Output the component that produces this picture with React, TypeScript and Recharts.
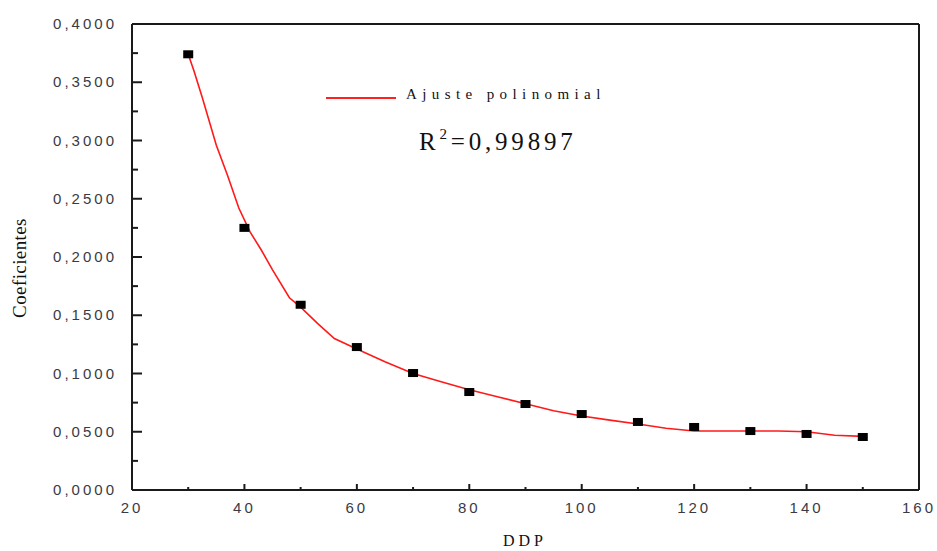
import React from 'react';
import { ComposedChart, Line, Scatter, XAxis, YAxis } from 'recharts';

// measured points
const ddp = [30, 40, 50, 60, 70, 80, 90, 100, 110, 120, 130, 140, 150];
const coef = [0.374, 0.225, 0.159, 0.1227, 0.1004, 0.0841, 0.0738, 0.0652, 0.0584, 0.0541, 0.0506, 0.0481, 0.0455];

// polynomial fit curve
const fitX = [30, 31, 32.5, 35, 37, 39, 41, 43, 45, 48, 50, 53, 56, 60, 65, 70, 75, 80, 85, 90, 95, 100, 105, 110, 115, 120, 125, 130, 135, 140, 145, 150];
const fitY = [0.374, 0.36, 0.337, 0.296, 0.27, 0.242, 0.2215, 0.206, 0.189, 0.165, 0.157, 0.143, 0.13, 0.121, 0.11, 0.1, 0.093, 0.086, 0.08, 0.074, 0.068, 0.0635, 0.06, 0.0567, 0.053, 0.0506, 0.0506, 0.0506, 0.0506, 0.05, 0.047, 0.046];

const xTicks = [20, 30, 40, 50, 60, 70, 80, 90, 100, 110, 120, 130, 140, 150, 160];
const yTicks = [0, 0.025, 0.05, 0.075, 0.1, 0.125, 0.15, 0.175, 0.2, 0.225, 0.25, 0.275, 0.3, 0.325, 0.35, 0.375, 0.4];

const points = ddp.map((x, i) => ({ x, v: coef[i] }));
const fit = fitX.map((x, i) => ({ x, v: fitY[i] }));

const AXIS = '#1a1a1a';
const LABEL = '#3a3a44';

const isMajorX = (v: number) => v % 20 === 0;
const isMajorY = (v: number) => Math.round(v * 1000) % 50 === 0;

const BottomTick = ({ x, y, payload }: any) => {
  const major = isMajorX(payload.value);
  return (
    <g>
      <line x1={x} x2={x} y1={y} y2={y - (major ? 6 : 3)} stroke={AXIS} strokeWidth={2} />
      {major && (
        <text x={x} y={y + 23} textAnchor="middle" fontFamily="'Liberation Sans', Arial, sans-serif" fontSize={15} letterSpacing={3} fill={LABEL}>
          {payload.value}
        </text>
      )}
    </g>
  );
};

const TopTick = ({ x, y, payload }: any) => {
  const major = isMajorX(payload.value);
  return <line x1={x} x2={x} y1={y} y2={y + (major ? 6 : 3)} stroke={AXIS} strokeWidth={2} />;
};

const LeftTick = ({ x, y, payload }: any) => {
  const major = isMajorY(payload.value);
  return (
    <g>
      <line x1={x} x2={x + (major ? 10 : 6)} y1={y} y2={y} stroke={AXIS} strokeWidth={2} />
      {major && (
        <text x={x - 15} y={y + 5} textAnchor="end" fontFamily="'Liberation Sans', Arial, sans-serif" fontSize={15} letterSpacing={3} fill={LABEL}>
          {payload.value.toFixed(4).replace('.', ',')}
        </text>
      )}
    </g>
  );
};

const RightTick = ({ x, y, payload }: any) => {
  const major = isMajorY(payload.value);
  return <line x1={x} x2={x - (major ? 10 : 6)} y1={y} y2={y} stroke={AXIS} strokeWidth={2} />;
};

const Square = ({ cx, cy }: any) => <rect x={cx - 5} y={cy - 4} width={10} height={8} fill="#000" />;

export default function App() {
  const serif = "'Liberation Serif', 'Times New Roman', serif";
  return (
    <div style={{ position: 'absolute', left: 0, top: 0, width: 937, height: 551, background: '#fff' }}>
      <ComposedChart width={937} height={551} margin={{ top: 4, right: 8, bottom: 31, left: 72 }}>
        <XAxis dataKey="x" type="number" domain={[20, 160]} ticks={xTicks} height={30} tickSize={0} tickMargin={0}
          tickLine={false} axisLine={{ stroke: AXIS, strokeWidth: 2 }} tick={<BottomTick />} interval={0} />
        <XAxis xAxisId="top" orientation="top" dataKey="x" type="number" domain={[20, 160]} ticks={xTicks} height={20}
          tickSize={0} tickMargin={0} tickLine={false} axisLine={{ stroke: AXIS, strokeWidth: 2 }} tick={<TopTick />} interval={0} />
        <YAxis type="number" domain={[0, 0.4]} ticks={yTicks} width={60} tickSize={0} tickMargin={0}
          tickLine={false} axisLine={{ stroke: AXIS, strokeWidth: 2 }} tick={<LeftTick />} interval={0} />
        <YAxis yAxisId="right" orientation="right" type="number" domain={[0, 0.4]} ticks={yTicks} width={10}
          tickSize={0} tickMargin={0} tickLine={false} axisLine={{ stroke: AXIS, strokeWidth: 2 }} tick={<RightTick />} interval={0} />
        <Line data={fit} dataKey="v" type="linear" stroke="#ff1a1a" strokeWidth={1.6} dot={false} isAnimationActive={false} />
        <Scatter data={points} dataKey="v" shape={<Square />} isAnimationActive={false} />
      </ComposedChart>

      <div style={{ position: 'absolute', left: 326, top: 97, width: 70, height: 0, borderTop: '2px solid #ff2020' }} />
      <div style={{ position: 'absolute', left: 406, top: 86, fontFamily: serif, fontSize: 15, letterSpacing: 5.4, color: '#111', whiteSpace: 'nowrap' }}>
        Ajuste polinomial
      </div>
      <div style={{ position: 'absolute', left: 419, top: 128, fontFamily: serif, fontSize: 25, letterSpacing: 3.8, color: '#111', whiteSpace: 'nowrap' }}>
        R<sup style={{ fontSize: 15, verticalAlign: 'top', position: 'relative', top: -2 }}>2</sup>=0,99897
      </div>
      <div style={{ position: 'absolute', left: 20, top: 268, transform: 'translate(-50%, -50%) rotate(-90deg)', fontFamily: serif, fontSize: 19, letterSpacing: 0.4, color: '#111', whiteSpace: 'nowrap' }}>
        Coeficientes
      </div>
      <div style={{ position: 'absolute', left: 525, top: 541, transform: 'translate(-50%, -50%)', fontFamily: serif, fontSize: 16, letterSpacing: 4, color: '#111', whiteSpace: 'nowrap' }}>
        DDP
      </div>
    </div>
  );
}
